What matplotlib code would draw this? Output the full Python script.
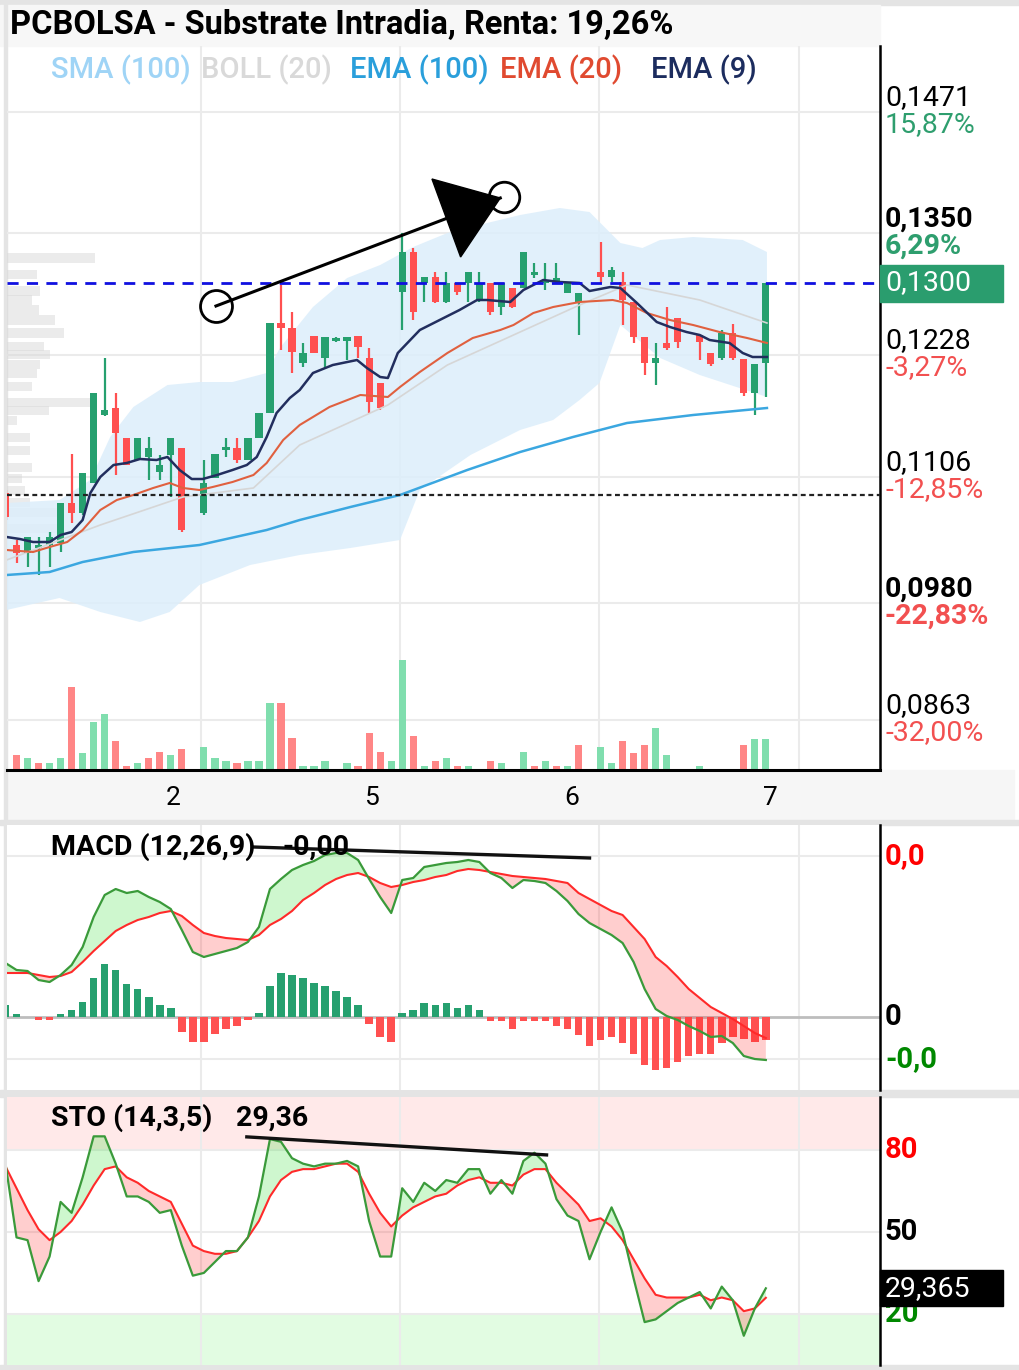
import numpy as np
import matplotlib.pyplot as plt
from matplotlib.patches import Rectangle, Polygon
from matplotlib.transforms import blended_transform_factory

plt.rcParams['font.family'] = ['Roboto', 'DejaVu Sans']

W, H = 1019, 1370
nan = np.nan

# ---------------- data ----------------
# candles, one per bar (nan = no bar)
o = [0.1090, 0.1038, 0.1030, 0.1035, 0.1038, 0.1040, 0.1080, 0.1070, 0.1100, 0.1168,
     0.1175, 0.1145, 0.1123, 0.1126, 0.1111, 0.1128, 0.1135, nan, 0.1070, 0.1105,
     0.1133, 0.1135, 0.1123, 0.1145, 0.1170, 0.1260, 0.1255, 0.1220, 0.1247, 0.1225,
     0.1242, 0.1242, 0.1247, 0.1225, 0.1200, nan, 0.1291, 0.1331, 0.1300, 0.1306,
     0.1281, 0.1300, 0.1300, 0.1283, 0.1300, 0.1276, 0.1295, 0.1295, 0.1308, 0.1300,
     0.1302, 0.1290, 0.1281, nan, 0.1311, 0.1306, 0.1301, 0.1281, 0.1246, 0.1220,
     0.1240, 0.1265, nan, 0.1248, 0.1230, 0.1225, 0.1250, 0.1224, 0.1190, 0.1220]
h = [0.1093, 0.1043, 0.1046, 0.1046, 0.1051, 0.1080, 0.1129, 0.1110, 0.1190, 0.1225,
     0.1190, 0.1145, 0.1145, 0.1146, 0.1128, 0.1145, 0.1135, nan, 0.1123, 0.1129,
     0.1145, 0.1145, 0.1145, 0.1170, 0.1260, 0.1298, 0.1271, 0.1240, 0.1247, 0.1246,
     0.1246, 0.1246, 0.1247, 0.1235, 0.1200, nan, 0.1350, 0.1335, 0.1306, 0.1311,
     0.1311, 0.1300, 0.1311, 0.1311, 0.1300, 0.1300, 0.1295, 0.1331, 0.1320, 0.1320,
     0.1320, 0.1300, 0.1290, nan, 0.1341, 0.1316, 0.1311, 0.1281, 0.1246, 0.1240,
     0.1276, 0.1265, nan, 0.1248, 0.1230, 0.1253, 0.1259, 0.1224, 0.1219, 0.1300]
l = [0.1063, 0.1020, 0.1016, 0.1008, 0.1016, 0.1031, 0.1060, 0.1068, 0.1100, 0.1167,
     0.1108, 0.1118, 0.1123, 0.1103, 0.1103, 0.1086, 0.1051, nan, 0.1068, 0.1105,
     0.1126, 0.1120, 0.1123, 0.1145, 0.1170, 0.1233, 0.1210, 0.1216, 0.1230, 0.1215,
     0.1241, 0.1223, 0.1225, 0.1170, 0.1173, nan, 0.1253, 0.1263, 0.1281, 0.1280,
     0.1280, 0.1288, 0.1281, 0.1281, 0.1268, 0.1268, 0.1275, 0.1295, 0.1305, 0.1293,
     0.1300, 0.1290, 0.1248, nan, 0.1300, 0.1301, 0.1258, 0.1240, 0.1208, 0.1198,
     0.1233, 0.1235, nan, 0.1223, 0.1217, 0.1223, 0.1223, 0.1187, 0.1168, 0.1186]
c = [0.1066, 0.1030, 0.1046, 0.1038, 0.1046, 0.1080, 0.1070, 0.1110, 0.1190, 0.1173,
     0.1150, 0.1118, 0.1145, 0.1135, 0.1118, 0.1145, 0.1053, nan, 0.1100, 0.1129,
     0.1136, 0.1123, 0.1145, 0.1170, 0.1260, 0.1255, 0.1231, 0.1230, 0.1230, 0.1246,
     0.1245, 0.1246, 0.1236, 0.1181, 0.1175, nan, 0.1331, 0.1271, 0.1306, 0.1281,
     0.1300, 0.1291, 0.1311, 0.1300, 0.1271, 0.1300, 0.1276, 0.1331, 0.1311, 0.1303,
     0.1305, 0.1300, 0.1290, nan, 0.1306, 0.1313, 0.1283, 0.1246, 0.1220, 0.1225,
     0.1235, 0.1241, nan, 0.1241, 0.1219, 0.1250, 0.1225, 0.1190, 0.1219, 0.1300]

volume = [0, 15, 12, 7, 7, 12, 83, 17, 48, 56,
          29, 4, 7, 12, 18, 15, 21, 0, 23, 12,
          9, 7, 9, 9, 67, 67, 32, 4, 4, 9,
          0, 7, 4, 37, 18, 9, 110, 34, 4, 9,
          12, 4, 4, 0, 9, 7, 0, 18, 4, 9,
          4, 4, 25, 0, 23, 7, 29, 17, 25, 42,
          15, 0, 0, 4, 0, 0, 0, 25, 31, 31]
vol_dir = "-rgrggrggg" "rrgrrgr-gg" "grgggrrggg" "-grrrggrgr" "grg-rg-grg" "rgr-ggrrrg" "g--g---rgg"

# overlays (bar index, price)
ema9_x = [0.1, 1.3, 2.5, 4, 5, 6, 7, 7.7, 8.6, 9.8, 11, 12.2, 13.7, 14.7, 15.8, 16.9, 17.9, 19.2,
          20.6, 21.9, 22.8, 23.7, 24.6, 25.8, 26.7, 27.9, 29.7, 31.9, 32.8, 34, 34.7, 35.6, 37.6,
          39.4, 41.2, 42.8, 43.7, 45.8, 47, 48.8, 50.3, 52.1, 53, 54.9, 55.8, 57.3, 59.1, 60.3,
          61.8, 63, 63.9, 65.7, 66.9, 67.8, 69.1]
ema9 = [0.1046, 0.1044, 0.1041, 0.1041, 0.1048, 0.1051, 0.1063, 0.1090, 0.1106, 0.1118,
        0.1120, 0.1124, 0.1123, 0.1126, 0.1113, 0.1104, 0.1104, 0.1108, 0.1113, 0.1118,
        0.1126, 0.1146, 0.1170, 0.1185, 0.1193, 0.1210, 0.1218, 0.1223, 0.1215, 0.1206,
        0.1205, 0.1230, 0.1253, 0.1263, 0.1273, 0.1283, 0.1283, 0.1281, 0.1293, 0.1303,
        0.1301, 0.1300, 0.1292, 0.1296, 0.1295, 0.1280, 0.1261, 0.1256, 0.1251, 0.1248,
        0.1243, 0.1240, 0.1230, 0.1226, 0.1226]
ema20_x = [0.1, 2.5, 4, 5.6, 7, 8.6, 10.1, 11.6, 13.4, 14.9, 16.1, 17.6, 18.8, 20.6, 22.5, 23.7,
           25.2, 26.7, 29.4, 32.2, 34.7, 35.8, 37.6, 40.1, 42.4, 44.9, 46.1, 47.9, 49.7, 52.1,
           55.1, 56.4, 58.2, 60.3, 62.4, 64.8, 67.3, 69.1]
ema20 = [0.1033, 0.1031, 0.1036, 0.1041, 0.1053, 0.1073, 0.1083, 0.1088, 0.1095, 0.1100,
         0.1095, 0.1093, 0.1096, 0.1101, 0.1108, 0.1120, 0.1143, 0.1158, 0.1176, 0.1188,
         0.1186, 0.1196, 0.1211, 0.1230, 0.1245, 0.1253, 0.1258, 0.1270, 0.1276, 0.1281,
         0.1283, 0.1280, 0.1270, 0.1263, 0.1258, 0.1251, 0.1245, 0.1240]
boll_mid_x = [0.1, 8.6, 16.1, 22.5, 26.7, 34.7, 40.1, 46.1, 52.1, 56.4, 63, 69.1]
boll_mid = [0.1023, 0.1058, 0.1086, 0.1095, 0.1138, 0.1178, 0.1218, 0.1248, 0.1278, 0.1298,
            0.1283, 0.1260]
ema100_x = [0.1, 4, 7, 11.6, 17.6, 23.7, 26.7, 31.3, 35.8, 41.9, 46.7, 51.5, 56.4, 62.4, 69.1]
ema100 = [0.1008, 0.1011, 0.1021, 0.1031, 0.1038, 0.1053, 0.1063, 0.1076, 0.1088, 0.1113,
          0.1131, 0.1146, 0.1160, 0.1168, 0.1175]
bb_up_x = [0.1, 4.9, 7.7, 9.5, 11.6, 14.7, 17.6, 20.6, 23.7, 24.9, 27.9, 31, 34, 37, 40.1,
           43.7, 46.7, 50.3, 53, 55.8, 57.8, 59.4, 62.4, 66.9, 69.1]
bb_up = [0.1080, 0.1083, 0.1103, 0.1146, 0.1176, 0.1198, 0.1201, 0.1201, 0.1210, 0.1235,
         0.1276, 0.1305, 0.1318, 0.1336, 0.1350, 0.1360, 0.1368, 0.1375, 0.1371, 0.1340,
         0.1335, 0.1343, 0.1346, 0.1343, 0.1331]
bb_lo_x = [0.1, 4.9, 8.6, 12.2, 14.9, 17.6, 22.2, 26.7, 31.3, 35.8, 37.6, 42.2, 46.7, 49.7,
           52.1, 53.9, 55.8, 59.4, 63, 69.1]
bb_lo = [0.0973, 0.0985, 0.0971, 0.0961, 0.0971, 0.0998, 0.1018, 0.1028, 0.1035, 0.1043,
         0.1093, 0.1128, 0.1153, 0.1163, 0.1183, 0.1200, 0.1258, 0.1225, 0.1208, 0.1186]

# volume profile on the left edge (price level, length in bars)
vp_price = [0.1325, 0.1309, 0.1292, 0.1283, 0.1273, 0.1263, 0.1250, 0.1237, 0.1229, 0.1219,
            0.1210, 0.1197, 0.1181, 0.1173, 0.1163, 0.1146, 0.1133, 0.1116, 0.1105, 0.1093,
            0.1081, 0.1071, 0.1055, 0.1028]
vp_len = [8.0, 2.7, 3.0, 2.3, 2.9, 4.4, 5.2, 3.4, 3.9, 3.0, 2.7, 2.3, 7.9, 3.8, 0.9, 2.1,
          2.1, 2.3, 1.4, 1.6, 2.1, 5.0, 5.0, 2.5]

ref_price = 0.1088
price_ticks = [0.1471, 0.1350, 0.1228, 0.1106, 0.0980, 0.0863]
price_labels = ['0,1471', '0,1350', '0,1228', '0,1106', '0,0980', '0,0863']
pct_labels = ['15,87%', '6,29%', '-3,27%', '-12,85%', '-22,83%', '-32,00%']
bold_ticks = [False, True, False, False, True, False]

day_lines = [17.75, 35.8, 53.9, 72.0]
day_labels = ['2', '5', '6', '7']

# MACD (units of 1e-5), one value per bar
macd = [54, 47, 46, 37, 35, 42, 52, 70, 100, 122,
        128, 124, 126, 120, 115, 108, 87, 65, 60, 63,
        66, 69, 75, 90, 128, 138, 147, 152, 156, 162,
        164, 164, 157, 138, 120, 104, 137, 139, 150, 152,
        154, 155, 157, 155, 144, 139, 129, 137, 136, 134,
        126, 116, 103, 94, 88, 82, 74, 55, 28, 8,
        1, -3, -9, -14, -20, -19, -26, -39, -42, -43]
signal = [44, 44, 44, 42, 40, 41, 45, 55, 66, 76,
          86, 92, 97, 100, 104, 106, 101, 92, 84, 81,
          79, 78, 77, 82, 92, 98, 106, 117, 124, 132,
          138, 142, 144, 140, 134, 130, 132, 135, 137, 140,
          142, 146, 148, 147, 145, 143, 141, 140, 139, 138,
          136, 134, 124, 118, 112, 106, 102, 90, 78, 60,
          51, 40, 28, 19, 10, 4, -2, -9, -16, -21]
macd_hist = [12, 3, 0, -3, -3, 3, 7, 15, 39, 53,
             47, 33, 28, 20, 12, 9, -15, -25, -25, -17,
             -12, -9, -3, 4, 31, 44, 42, 39, 34, 31,
             26, 20, 12, -7, -20, -25, 4, 7, 14, 12,
             14, 9, 12, 7, -4, -4, -12, -4, -4, -4,
             -9, -12, -18, -29, -23, -20, -26, -37, -48, -53,
             -51, -45, -39, -37, -37, -26, -20, -22, -25, -23]

# Stochastic %K / %D
sto_k = [75, 48, 47, 32, 41, 61, 57, 70, 85, 85,
         75, 63, 63, 61, 57, 58, 45, 34, 35, 39,
         43, 43, 48, 63, 84, 83, 77, 75, 74, 75,
         75, 76, 74, 54, 41, 41, 66, 61, 68, 65,
         69, 68, 73, 73, 64, 69, 64, 76, 79, 75,
         62, 56, 54, 40, 50, 59, 50, 33, 17, 18,
         21, 24, 26, 28, 22, 30, 25, 12, 22, 29.365]
sto_d = [74, 66, 58, 51, 47, 50, 54, 60, 67, 73,
         74, 70, 68, 65, 63, 61, 53, 45, 43, 42,
         42, 43, 48, 54, 63, 69, 72, 73, 73, 74,
         75, 75, 72, 64, 57, 52, 56, 59, 61, 63,
         64, 67, 69, 70, 68, 68, 67, 71, 73, 73,
         68, 64, 60, 54, 55, 52, 47, 40, 33, 27,
         26, 26, 26, 27, 25, 26, 25, 21, 22, 25.9]

# hand-drawn annotations (bar index, value)
arrow_start = (19.1, 0.1277)
arrow_end = (45.2, 0.1386)
arrow_head = [(38.7, 0.1404), (44.9, 0.1385), (41.3, 0.1326)]
macd_trend = ([22.5, 53.0], [170, 159])
sto_trend = ([21.9, 49.1], [84.8, 78.2])

# ---------------- styling ----------------
GREEN = '#26A06F'
RED = '#FF5050'
VGREEN = '#80DEAE'
VRED = '#FF8686'
GRID = '#EBEBEB'
BORDER = '#E4E4E4'

idx = np.arange(len(c))
XL = (0.136, 79.36)

fig = plt.figure(figsize=(W / 100, H / 100), dpi=100)


def px_axes(lft, top, rgt, bot):
    a = fig.add_axes([lft / W, 1 - bot / H, (rgt - lft) / W, (bot - top) / H])
    a.set_xlim(*XL)
    a.set_xticks([])
    a.set_yticks([])
    for s in ['top', 'left']:
        a.spines[s].set_visible(False)
    return a


def ftext(x, y, s, **kw):
    fig.text(x / W, 1 - y / H, s, va='center', **kw)


def frect(x0, y0, x1, y1, color):
    # drawn under the axes
    fig.patches.append(Rectangle((x0 / W, 1 - y1 / H), (x1 - x0) / W, (y1 - y0) / H,
                                 transform=fig.transFigure, color=color, zorder=-1))


# frame pieces
frect(0, 0, 1019, 5, BORDER)
frect(0, 5, 880, 46, '#F7F7F7')
frect(7, 770, 1014, 820, '#F6F6F6')
frect(0, 820, 1019, 825, BORDER)
frect(0, 1090, 1019, 1097, BORDER)
frect(0, 1365, 1019, 1370, BORDER)
frect(4, 0, 7, 1370, BORDER)

# ---------------- main price panel ----------------
ax = px_axes(7, 46, 880, 770)
ax.set_ylim(0.0813, 0.1537)
ax.spines['bottom'].set_linewidth(2.2)
ax.spines['right'].set_linewidth(1.8)
ax.patch.set_alpha(0)

for p in price_ticks:
    ax.axhline(p, color=GRID, lw=1.5, zorder=0)
for d in day_lines:
    ax.axvline(d, color=GRID, lw=1.5, zorder=0)

# volume profile
ax.barh(vp_price, vp_len, height=0.0009, left=XL[0], color='#D9D9D9', alpha=0.5, zorder=1)

# bollinger band
ax.fill(np.concatenate([bb_up_x, bb_lo_x[::-1]]), np.concatenate([bb_up, bb_lo[::-1]]),
        color='#DCEEFB', alpha=0.85, lw=0, zorder=1)

# volume bars
vcols = [VGREEN if d == 'g' else VRED for d in vol_dir]
ax.bar(idx, np.array(volume) * 1e-4, bottom=0.0813, width=0.66, color=vcols, zorder=2)

# candles
for i in idx:
    if np.isnan(o[i]):
        continue
    col = GREEN if c[i] >= o[i] else RED
    ax.vlines(i, l[i], h[i], color=col, lw=1.6, zorder=3)
    ax.bar(i, max(abs(c[i] - o[i]), 0.00025), bottom=min(o[i], c[i]), width=0.66,
           color=col, zorder=3)

ax.plot(boll_mid_x, boll_mid, color='#D6D6D6', lw=1.2, zorder=4)
ax.plot(ema100_x, ema100, color='#3BA7E0', lw=1.8, zorder=4)
ax.plot(ema20_x, ema20, color='#E0603F', lw=1.5, zorder=4)
ax.plot(ema9_x, ema9, color='#222E5E', lw=1.8, zorder=5)

ax.axhline(c[-1], color='#1010E0', lw=2, ls=(0, (4, 3)), zorder=5, clip_on=False)
ax.axhline(ref_price, color='#222222', lw=1.6, ls=(0, (2.2, 1.6)), zorder=5)

# drawn arrow
ax.plot([arrow_start[0], arrow_head[1][0]], [arrow_start[1], arrow_head[1][1]],
        color='black', lw=2.2, zorder=6)
ax.plot(*arrow_start, 'o', ms=23, mfc='none', mec='black', mew=2, zorder=6)
ax.plot(*arrow_end, 'o', ms=22, mfc='none', mec='black', mew=2, zorder=6)
ax.add_patch(Polygon(arrow_head, closed=True, color='black', zorder=6))

# price scale labels
for p, lab, pct, b in zip(price_ticks, price_labels, pct_labels, bold_ticks):
    fw = 'bold' if b else 'normal'
    pc = '#2E9E6E' if not pct.startswith('-') else '#F25050'
    ax.annotate(lab, (1, p), xycoords=('axes fraction', 'data'), xytext=(5, 14),
                textcoords='offset pixels', va='center', ha='left', fontsize=20.5,
                fontweight=fw, color='black', annotation_clip=False)
    ax.annotate(pct, (1, p), xycoords=('axes fraction', 'data'), xytext=(5, -13),
                textcoords='offset pixels', va='center', ha='left', fontsize=20.5,
                fontweight=fw, color=pc, annotation_clip=False)

# last price tag
fig.canvas.draw()
yd = ax.transData.transform((0, c[-1]))[1]
fig.patches.append(Rectangle((880, yd - 18.5), 123, 37, transform=None, color='#2A9D6E', zorder=5))
fig.text(885 / W, yd / H, '0,1300', color='white', fontsize=20.5, va='center', ha='left', zorder=6)

# day labels under the chart
btr = blended_transform_factory(ax.transData, ax.transAxes)
for d, lab in zip(day_lines, day_labels):
    ax.text(d - 2.55, -28 / 724, lab, transform=btr, ha='center', va='center', fontsize=19)

# title + legend
ftext(10, 25, 'PCBOLSA - Substrate Intradia, Renta: 19,26%', fontsize=23.5, fontweight='bold')
legend = [('SMA (100)', '#9FD4F6', 51), ('BOLL (20)', '#D9D9D9', 201), ('EMA (100)', '#2A9FDB', 350),
          ('EMA (20)', '#E04A30', 500), ('EMA (9)', '#1C2C5E', 651)]
for txt, col, x in legend:
    ftext(x, 70, txt, fontsize=21, color=col, fontweight='medium')

# ---------------- MACD panel ----------------
am = px_axes(7, 825, 880, 1090)
am.set_ylim(-73, 192)
am.spines['bottom'].set_visible(False)
am.spines['right'].set_linewidth(1.8)
for v in [161, -42]:
    am.axhline(v, color=GRID, lw=1.5, zorder=0)
for d in day_lines:
    am.axvline(d, color=GRID, lw=1.5, zorder=0)
am.bar(idx, macd_hist, width=0.68, color=[GREEN if v >= 0 else RED for v in macd_hist], zorder=2)
am.axhline(0, color='#BDBDBD', lw=2, zorder=1)
mc, sg = np.array(macd, float), np.array(signal, float)
am.fill_between(idx, mc, sg, where=mc >= sg, interpolate=True, color='#22DD22', alpha=0.22, lw=0, zorder=3)
am.fill_between(idx, mc, sg, where=mc < sg, interpolate=True, color='#FF2020', alpha=0.22, lw=0, zorder=3)
am.plot(idx, sg, color='#FF2A2A', lw=1.5, zorder=4)
am.plot(idx, mc, color='#3A9A3A', lw=1.6, zorder=4)
am.plot(*macd_trend, color='#111111', lw=2.4, zorder=5)
ftext(51, 847, 'MACD (12,26,9)', fontsize=20.5, fontweight='bold')
ftext(283, 847, '-0,00', fontsize=20.5, fontweight='bold')
for v, lab, col in [(161, '0,0', '#FF0000'), (0, '0', 'black'), (-42, '-0,0', '#008800')]:
    am.annotate(lab, (1, v), xycoords=('axes fraction', 'data'), xytext=(5, 0),
                textcoords='offset pixels', va='center', fontsize=21, fontweight='bold',
                color=col, annotation_clip=False)

# ---------------- Stochastic panel ----------------
ast = px_axes(7, 1097, 880, 1365)
ast.set_ylim(1.3, 99.4)
ast.spines['bottom'].set_visible(False)
ast.spines['right'].set_linewidth(1.8)
ast.axhspan(80, 100, color='#FFE9E9', lw=0, zorder=0)
ast.axhspan(0, 20, color='#E2FCE2', lw=0, zorder=0)
for v in [80, 50, 20]:
    ast.axhline(v, color=GRID, lw=1.5, zorder=1)
for d in day_lines:
    ast.axvline(d, color=GRID, lw=1.5, zorder=1)
k, dd = np.array(sto_k, float), np.array(sto_d, float)
ast.fill_between(idx, k, dd, where=k >= dd, interpolate=True, color='#22DD22', alpha=0.22, lw=0, zorder=2)
ast.fill_between(idx, k, dd, where=k < dd, interpolate=True, color='#FF2020', alpha=0.22, lw=0, zorder=2)
ast.plot(idx, dd, color='#FF2A2A', lw=1.5, zorder=3)
ast.plot(idx, k, color='#3A9A3A', lw=1.6, zorder=3)
ast.plot(*sto_trend, color='#111111', lw=2.4, zorder=5)
ftext(51, 1118, 'STO (14,3,5)', fontsize=20.5, fontweight='bold')
ftext(236, 1118, '29,36', fontsize=20.5, fontweight='bold')
for v, lab, col in [(80, '80', '#FF0000'), (50, '50', 'black'), (20, '20', '#008800')]:
    ast.annotate(lab, (1, v), xycoords=('axes fraction', 'data'), xytext=(5, 0),
                 textcoords='offset pixels', va='center', fontsize=21, fontweight='bold',
                 color=col, annotation_clip=False)

yd = ast.transData.transform((0, sto_k[-1]))[1]
fig.patches.append(Rectangle((880, yd - 18), 123, 36, transform=None, color='black', zorder=5))
fig.text(885 / W, yd / H, '29,365', color='white', fontsize=20.5, va='center', ha='left', zorder=6)

fig.savefig('out.png', dpi=100)
